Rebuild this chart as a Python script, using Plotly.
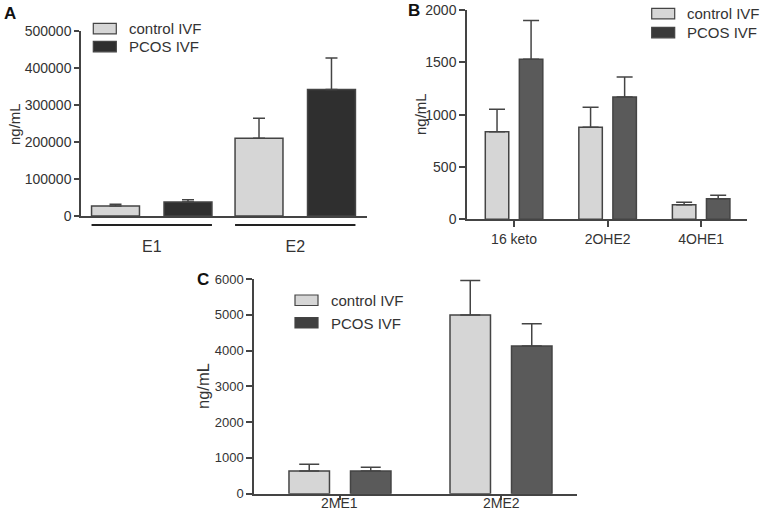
import plotly.graph_objects as go

# ---------------- data ----------------
A_categories = ["E1", "E2"]
A_control = [27000, 210000]
A_control_err = [5000, 54000]
A_pcos = [37500, 341500]
A_pcos_err = [6500, 85000]
A_yticks = [0, 100000, 200000, 300000, 400000, 500000]

B_categories = ["16 keto", "2OHE2", "4OHE1"]
B_control = [837, 879, 140]
B_control_err = [214, 192, 22]
B_pcos = [1530, 1169, 197]
B_pcos_err = [369, 191, 32]
B_yticks = [0, 500, 1000, 1500, 2000]

C_categories = ["2ME1", "2ME2"]
C_control = [634, 4992]
C_control_err = [187, 969]
C_pcos = [634, 4126]
C_pcos_err = [103, 623]
C_yticks = [0, 1000, 2000, 3000, 4000, 5000, 6000]

series_names = ["control IVF", "PCOS IVF"]
y_title = "ng/mL"

# ---------------- style ----------------
W, H = 760, 520
FONT = "Liberation Sans, Arial, sans-serif"
TXT = "#333333"
AX = "#444444"
C_LIGHT = "#d6d6d6"
C_DARK_A = "#2f2f2f"
C_DARK_BC = "#5a5a5a"


def px_x(p):
    return p / W


def px_y(p):
    return 1 - p / H


fig = go.Figure()


def add_panel(cats, ctrl, ctrl_err, pcos, pcos_err, xa, ya, dark,
              half_sep, bar_w, cap):
    for name, vals, err, col, sign in [
        (series_names[0], ctrl, ctrl_err, C_LIGHT, -1),
        (series_names[1], pcos, pcos_err, dark, 1),
    ]:
        fig.add_trace(go.Bar(
            x=cats, y=vals, name=name, showlegend=False,
            xaxis=xa, yaxis=ya,
            width=bar_w, offset=sign * half_sep - bar_w / 2,
            marker=dict(color=col, line=dict(color=AX, width=1.5)),
            error_y=dict(type="data", symmetric=False, array=err,
                         arrayminus=[0] * len(err), color=AX,
                         thickness=1.5, width=cap),
        ))


# Panel A
A_half, A_w = 0.2525, 0.334
add_panel(A_categories, A_control, A_control_err, A_pcos, A_pcos_err,
          "x", "y", C_DARK_A, A_half, A_w, 6)
# Panel B
add_panel(B_categories, B_control, B_control_err, B_pcos, B_pcos_err,
          "x2", "y2", C_DARK_BC, 0.182, 0.251, 8)
# Panel C
add_panel(C_categories, C_control, C_control_err, C_pcos, C_pcos_err,
          "x3", "y3", C_DARK_BC, 0.191, 0.2515, 10)

axis_common = dict(showline=True, linecolor=AX, linewidth=1.5,
                   showgrid=False, zeroline=False, ticks="outside",
                   tickcolor=AX, tickwidth=1.5, ticklen=6, automargin=False)


def tf(size):
    return dict(family=FONT, color=TXT, size=size)


fig.update_layout(
    width=W, height=H, autosize=False,
    margin=dict(l=0, r=0, t=0, b=0, pad=0),
    paper_bgcolor="white", plot_bgcolor="white",
    font=dict(family=FONT, color=TXT),
    barmode="overlay",
    showlegend=False,
    xaxis=dict(domain=[px_x(81), px_x(367)], anchor="y", type="category",
               range=[-0.493, 1.5], showline=True, linecolor=AX, linewidth=1.5,
               showgrid=False, zeroline=False, ticks="", automargin=False,
               ticklabelstandoff=15, tickfont=tf(16)),
    yaxis=dict(domain=[px_y(216), px_y(30.7)], anchor="x", range=[0, 500000],
               tickvals=A_yticks, ticktext=[str(v) for v in A_yticks],
               tickfont=tf(14), **{**axis_common, "ticklen": 5}),
    xaxis2=dict(domain=[px_x(467), px_x(747)], anchor="y2", type="category",
                range=[-0.503, 2.49], tickfont=tf(14), **axis_common),
    yaxis2=dict(domain=[px_y(219.3), px_y(10)], anchor="x2", range=[0, 2000],
                tickvals=B_yticks, tickfont=tf(14), **axis_common),
    xaxis3=dict(domain=[px_x(254), px_x(577)], anchor="y3", type="category",
                range=[-0.534, 1.472], showticklabels=False,
                **{**axis_common, "ticklen": 5}),
    yaxis3=dict(domain=[px_y(493.7), px_y(279)], anchor="x3", range=[0, 6000],
                tickvals=C_yticks, tickfont=tf(13), **axis_common),
)

# panel C category labels sit tight under the axis
for cat in C_categories:
    fig.add_annotation(text=cat, x=cat, xref="x3", y=px_y(502.5), yref="paper",
                       showarrow=False, xanchor="center", yanchor="middle",
                       font=tf(14))

# y-axis titles
for x, y, size in [(14, 124, 15), (420, 114, 15), (203, 386, 16.5)]:
    fig.add_annotation(text=y_title, x=px_x(x), y=px_y(y), xref="paper",
                       yref="paper", showarrow=False, textangle=-90,
                       xanchor="center", yanchor="middle", font=tf(size))

# group under-lines for panel A
for i, _ in enumerate(A_categories):
    fig.add_shape(type="line", xref="x", yref="paper",
                  x0=i - A_half - A_w / 2, x1=i + A_half + A_w / 2,
                  y0=px_y(225), y1=px_y(225),
                  line=dict(color="#222222", width=2))

# legends (box left, first row top, row step, dark colour)
for bx, top, step, dark in [(93.3, 23.3, 18, C_DARK_A),
                            (651.7, 8.3, 19, "#3a3a3a"),
                            (295, 295, 22.5, "#404040")]:
    for k, (name, col) in enumerate([(series_names[0], C_LIGHT),
                                     (series_names[1], dark)]):
        y0 = top + k * step
        fig.add_shape(type="rect", xref="paper", yref="paper",
                      x0=px_x(bx), x1=px_x(bx + 23), y0=px_y(y0 + 10.5),
                      y1=px_y(y0), fillcolor=col,
                      line=dict(color=AX, width=1.2))
        fig.add_annotation(text=name, x=px_x(bx + 33.5), y=px_y(y0 + 5.5),
                           xref="paper", yref="paper", showarrow=False,
                           xanchor="left", yanchor="middle", font=tf(15))

# panel letters
for letter, x, y in [("A", 10, 13), ("B", 414, 10), ("C", 203, 279)]:
    fig.add_annotation(text="<b>%s</b>" % letter, x=px_x(x), y=px_y(y),
                       xref="paper", yref="paper", showarrow=False,
                       xanchor="center", yanchor="middle",
                       font=dict(size=17, family=FONT, color="#111111"))

# remove the default page margin so the 760x520 figure fills the window
fig.write_html("out.html", config={"displayModeBar": False},
               post_script="document.body.style.margin='0';")
